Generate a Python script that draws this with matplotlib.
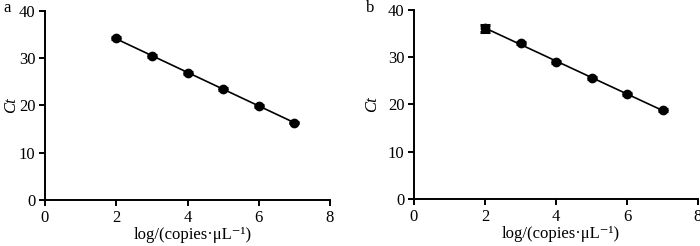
import numpy as np
import matplotlib
matplotlib.use("Agg")
import matplotlib.pyplot as plt

plt.rcParams['font.family'] = ['Liberation Serif', 'DejaVu Serif']

x_a = [2, 3, 4, 5, 6, 7]
ct_a = [34.2, 30.5, 26.9, 23.5, 19.9, 16.4]
err_a = [0.2, 0.2, 0.2, 0.2, 0.2, 0.2]

x_b = [2, 3, 4, 5, 6, 7]
ct_b = [36.1, 33.0, 29.0, 25.7, 22.2, 18.8]
err_b = [0.8, 0.2, 0.2, 0.2, 0.2, 0.2]

panel_labels = ['a', 'b']
xticks = [0, 2, 4, 6, 8]
yticks = [0, 10, 20, 30, 40]
xlabel = 'log/(copies\u00b7\u03bcL\u207b\u00b9)'
ylabel = 'Ct'

fig = plt.figure(figsize=(7.0, 2.46), dpi=100)
axes = [fig.add_axes([45 / 700, 1 - 200 / 246, 285 / 700, 189 / 246]),
        fig.add_axes([414 / 700, 1 - 199 / 246, 284 / 700, 189 / 246])]
label_x = [3 / 700, 366 / 700]
ylab_pos = [-0.119, -0.148]
xlab_pos = [0.52, 0.518]

for ax, xs, ys, es, lab, lx, yp, xp in zip(axes, [x_a, x_b], [ct_a, ct_b], [err_a, err_b],
                                        panel_labels, label_x, ylab_pos, xlab_pos):
    xs = np.array(xs, float); ys = np.array(ys, float)
    k, b = np.polyfit(xs, ys, 1)
    xx = np.array([xs.min(), xs.max()])
    ax.plot(xx, k * xx + b, color='black', lw=1.2, zorder=2)
    ax.errorbar(xs, ys, yerr=es, fmt='o', color='black', ms=6,
                capsize=3.5, elinewidth=1.2, capthick=2.2, zorder=3)
    ax.set_xlim(0, 8)
    ax.set_ylim(0, 40)
    ax.set_xticks(xticks)
    ax.set_yticks(yticks)
    for s in ['top', 'right']:
        ax.spines[s].set_visible(False)
    for s in ['left', 'bottom']:
        ax.spines[s].set_linewidth(1.4)
    ax.tick_params(direction='out', length=4, width=1.4, labelsize=12, pad=3, colors='black')
    for t in ax.get_xticklabels() + ax.get_yticklabels():
        t.set_clip_on(False)
    ax.set_xlabel(xlabel, fontsize=12, va='center')
    ax.xaxis.set_label_coords(xp, -0.185)
    ax.set_ylabel(ylabel, fontsize=12, style='italic', va='center')
    ax.yaxis.set_label_coords(yp, 0.5)
    fig.text(lx, 1 - 8 / 246, lab, fontsize=12, ha='left', va='center')

fig.savefig('out.png', dpi=100)
